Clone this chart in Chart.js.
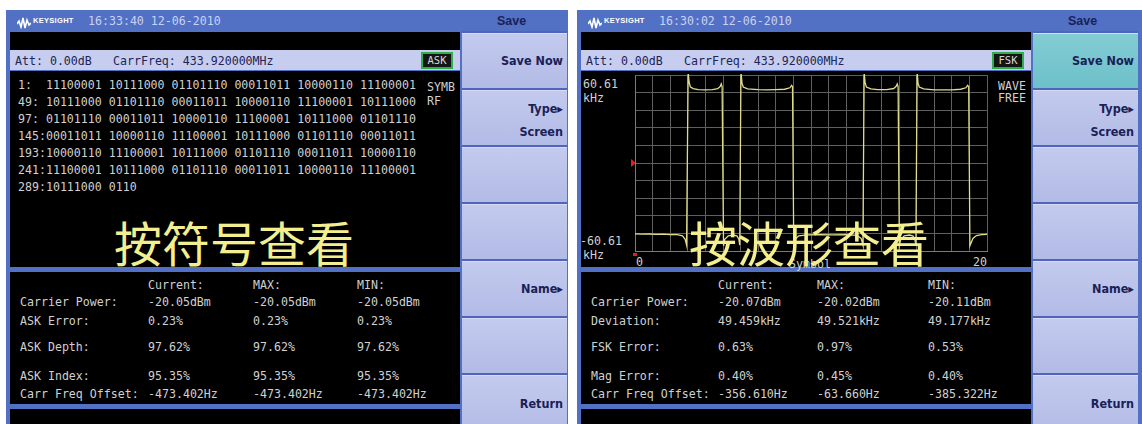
<!DOCTYPE html>
<html>
<head>
<meta charset="utf-8">
<script src="https://cdn.jsdelivr.net/npm/chart.js@4.4.1/dist/chart.umd.min.js"></script>
<style>
    html, body { margin: 0; padding: 0; background: #fff; }
    #page { position: relative; width: 1142px; height: 424px; overflow: hidden; background: #fff; }
    .a { position: absolute; }
    .frame { background: #5270c4; }
    .blk { background: #000; }
    .t { position: absolute; white-space: pre; height: 14px; line-height: 14px; }
    .mono { font-family: "DejaVu Sans Mono", monospace; font-size: 11.6px; color: #d0d0d0; }
    .bar { background: #c6cdef; }
    .key { position: absolute; background: linear-gradient(#c3caee, #b2bbe6); border-top: 1px solid #d6dcf6; box-shadow: 0 -2px 0 #5064bb; }
    .key.on { background: linear-gradient(#84ccd4, #6cc0c9); }
    .kt { position: absolute; right: 4px; font-family: "Liberation Sans Narrow", "DejaVu Sans Condensed", sans-serif; font-weight: bold; font-size: 12.5px; color: #1a2156; }
    .title { color: #c9d2f4; font-family: "DejaVu Sans Mono", monospace; font-size: 11.6px; }
    .logo { color: #fff; font-family: "Liberation Sans", sans-serif; font-weight: bold; font-size: 7.5px; letter-spacing: 0.3px; }
    .save { color: #1a2156; font-family: "Liberation Sans Narrow", sans-serif; font-weight: bold; font-size: 12.5px; }
    .mode { border: 2px solid #2fae4c; background: #151515; color: #d8d8d8; font-family: "DejaVu Sans Mono", monospace; font-size: 10.5px; text-align: center; line-height: 13px; height: 13px; }
    .cn { position: absolute; z-index: 5; font-family: "Noto Sans CJK SC", sans-serif; font-size: 48px; color: #f4ef8e; white-space: pre; line-height: 48px; }
    .red { position: absolute; background: #e02020; }
</style>
</head>
<body>
<div id="page"></div>
<script>
// ── DATOS ─────────────────────────────────────────────

const binRows = [
    '1:  11100001 10111000 01101110 00011011 10000110 11100001',
    '49: 10111000 01101110 00011011 10000110 11100001 10111000',
    '97: 01101110 00011011 10000110 11100001 10111000 01101110',
    '145:00011011 10000110 11100001 10111000 01101110 00011011',
    '193:10000110 11100001 10111000 01101110 00011011 10000110',
    '241:11100001 10111000 01101110 00011011 10000110 11100001',
    '289:10111000 0110'
];

const colHeads = ['Current:', 'MAX:', 'MIN:'];

const askLabels  = ['Carrier Power:', 'ASK Error:', 'ASK Depth:', 'ASK Index:', 'Carr Freq Offset:'];
const askCurrent = ['-20.05dBm', '0.23%', '97.62%', '95.35%', '-473.402Hz'];
const askMax     = ['-20.05dBm', '0.23%', '97.62%', '95.35%', '-473.402Hz'];
const askMin     = ['-20.05dBm', '0.23%', '97.62%', '95.35%', '-473.402Hz'];

const fskLabels  = ['Carrier Power:', 'Deviation:', 'FSK Error:', 'Mag Error:', 'Carr Freq Offset:'];
const fskCurrent = ['-20.07dBm', '49.459kHz', '0.63%', '0.40%', '-356.610Hz'];
const fskMax     = ['-20.02dBm', '49.521kHz', '0.97%', '0.45%', '-63.660Hz'];
const fskMin     = ['-20.11dBm', '49.177kHz', '0.53%', '0.40%', '-385.322Hz'];

const symX = [
    0, 0.4, 0.8, 1.2, 1.6, 2.0, 2.4, 2.7, 2.85, 2.93,
    3.02, 3.07, 3.14, 3.3, 3.6, 4.0, 4.4, 4.7, 4.85, 4.9, 4.95,
    5.03, 5.1, 5.3, 5.6, 5.8, 5.9, 5.95,
    6.02, 6.08, 6.15, 6.4, 7.0, 7.5, 8.0, 8.5, 8.8, 8.9, 8.95,
    9.02, 9.1, 9.3, 9.8, 10.5, 11.2, 12.0, 12.6, 12.85, 12.95,
    13.02, 13.07, 13.15, 13.4, 13.8, 14.3, 14.7, 14.85, 14.9, 14.95,
    15.02, 15.1, 15.3, 15.6, 15.8, 15.9, 15.96,
    16.03, 16.08, 16.15, 16.4, 17.0, 17.5, 18.0, 18.5, 18.8, 18.9, 18.96,
    19.03, 19.1, 19.2, 19.4, 19.7, 20
];
const devKHz = [
    -48.8, -49.0, -48.9, -49.2, -49.0, -49.3, -49.4, -50.2, -52.5, -56.5,
    63, 56, 52.5, 51.2, 50.6, 50.4, 50.6, 51.2, 52.8, 54.5, 52.5,
    -57, -52.5, -50.2, -49.6, -50.3, -52.5, -56.5,
    63, 55, 52.3, 51.0, 50.5, 50.3, 50.5, 50.8, 51.8, 53.5, 52.5,
    -57, -52.5, -50.2, -49.5, -49.3, -49.5, -49.4, -49.8, -52.0, -56.5,
    63, 55.5, 52.3, 51.0, 50.5, 50.6, 51.3, 53.0, 54.5, 52.5,
    -57, -52.5, -50.2, -49.6, -50.3, -52.5, -56.5,
    63, 55, 52.3, 51.0, 50.4, 50.3, 50.4, 50.8, 51.8, 53.5, 52.5,
    -57, -55, -52, -50.0, -49.3, -49.2
];

const yMin = -60.61, yMax = 60.61;

// ── MAQUETA ─────────────────────────────────────────────

const page = document.getElementById('page');

function box(x, y, w, h, cls) {
    const d = document.createElement('div');
    d.className = 'a ' + (cls || '');
    d.style.cssText = `left:${x}px;top:${y}px;width:${w}px;height:${h}px;`;
    page.appendChild(d);
    return d;
}

function txt(x, y, s, cls, parent) {
    const d = document.createElement('div');
    d.className = 't ' + (cls || '');
    d.style.left = x + 'px';
    d.style.top = (y - 7) + 'px';
    d.textContent = s;
    (parent || page).appendChild(d);
    return d;
}

function pantalla(ox, w, hora, modo, saveOn, tabla, cols) {
    box(ox + 6, 10, w, 414, 'frame');
    // barra de título
    const logo = box(ox + 17, 15, 14, 12, '');
    logo.innerHTML = '<svg width="14" height="12"><polyline points="0,7 2,4 4,10 6,1 8,11 10,3 12,8 14,6" fill="none" stroke="#fff" stroke-width="1.6"/></svg>';
    txt(ox + 33, 21, 'KEYSIGHT', 'logo');
    txt(ox + 88, 21, hora, 'title');
    txt(ox + 497, 21, 'Save', 'save');

    box(ox + 10, 32, 450, 18, 'blk');
    const bar = box(ox + 10, 50, 450, 20, 'bar');
    txt(5, 11, 'Att: 0.00dB', 'mono', bar).style.color = '#1d2456';
    txt(103, 11, 'CarrFreq: 433.920000MHz', 'mono', bar).style.color = '#1d2456';
    const m = box(ox + 421, 52, 28, 13, 'mode');
    m.textContent = modo;

    box(ox + 10, 71, 450, 196, 'blk');
    box(ox + 10, 272, 450, 132, 'blk');
    box(ox + 10, 409, 450, 15, 'blk');

    // tabla de medidas
    const ys = [302, 321, 347, 376, 394];
    colHeads.forEach((h, i) => txt(ox + cols[i], 285, h, 'mono'));
    tabla.labels.forEach((l, i) => {
        txt(ox + 20, ys[i], l, 'mono');
        txt(ox + cols[0], ys[i], tabla.cur[i], 'mono');
        txt(ox + cols[1], ys[i], tabla.max[i], 'mono');
        txt(ox + cols[2], ys[i], tabla.min[i], 'mono');
    });

    // teclas
    const tops = [32, 89, 146, 203, 260, 317, 374];
    const textos = [['Save Now'], ['Type\u25B8', 'Screen'], [], [], ['Name\u25B8'], [], ['Return']];
    tops.forEach((t, i) => {
        const k = box(ox + 462, t + 1, 105, (i === 6 ? 60 : 55), 'key');
        k.className = 'key' + (i === 0 && saveOn ? ' on' : '');
        const tx = textos[i];
        if (tx.length === 1) {
            const s = document.createElement('div');
            s.className = 'kt';
            s.style.top = (i === 6 ? 20 : 19) + 'px';
            s.textContent = tx[0];
            k.appendChild(s);
        } else if (tx.length === 2) {
            tx.forEach((v, j) => {
                const s = document.createElement('div');
                s.className = 'kt';
                s.style.top = (10 + j * 23) + 'px';
                s.textContent = v;
                k.appendChild(s);
            });
        }
    });
}

pantalla(0, 562, '16:33:40 12-06-2010', 'ASK', false,
    { labels: askLabels, cur: askCurrent, max: askMax, min: askMin }, [148, 253, 357]);
pantalla(571, 571, '16:30:02 12-06-2010', 'FSK', true,
    { labels: fskLabels, cur: fskCurrent, max: fskMax, min: fskMin }, [147, 246, 357]);

// texto de símbolos
binRows.forEach((r, i) => txt(18, 85 + i * 17, r, 'mono'));
txt(427, 87, 'SYMB', 'mono');
txt(427, 101, 'RF', 'mono');

// etiquetas de la gráfica
txt(583, 84, '60.61', 'mono');
txt(583, 98, 'kHz', 'mono');
txt(580, 241, '-60.61', 'mono');
txt(583, 255, 'kHz', 'mono');
txt(636, 262, '0', 'mono');
txt(789, 264, 'Symbol', 'mono');
txt(973, 262, '20', 'mono');
txt(998, 86, 'WAVE', 'mono');
txt(998, 98, 'FREE', 'mono');

const tri = box(631, 159, 0, 0, '');
tri.style.cssText += 'border-left:5px solid #e02020;border-top:4px solid transparent;border-bottom:4px solid transparent;';
box(633, 253, 4, 3, 'red');

const cn1 = document.createElement('div');
cn1.className = 'cn';
cn1.style.cssText = 'left:114px;top:217px;';
cn1.textContent = '按符号查看';
page.appendChild(cn1);
const cn2 = document.createElement('div');
cn2.className = 'cn';
cn2.style.cssText = 'left:689px;top:217px;';
cn2.textContent = '按波形查看';
page.appendChild(cn2);

// ── GRÁFICA ─────────────────────────────────────────────

const wrap = box(634, 74, 354, 178, '');
const cv = document.createElement('canvas');
cv.width = 354; cv.height = 178;
wrap.appendChild(cv);

new Chart(cv.getContext('2d'), {
    type: 'line',
    data: {
        datasets: [{
            data: symX.map((x, i) => ({ x, y: devKHz[i] })),
            borderColor: '#e0dc8a',
            borderWidth: 1.3,
            pointRadius: 0,
            tension: 0,
            clip: 2
        }]
    },
    options: {
        responsive: false,
        animation: false,
        devicePixelRatio: 1,
        layout: { padding: 1 },
        plugins: { legend: { display: false }, tooltip: { enabled: false } },
        scales: {
            x: {
                type: 'linear', min: 0, max: 20,
                ticks: { display: false, stepSize: 1 },
                grid: { color: '#5f5f5f', drawTicks: false },
                border: { color: '#7a7a7a' }
            },
            y: {
                min: yMin, max: yMax,
                ticks: { display: false, count: 11 },
                grid: { color: '#5f5f5f', drawTicks: false },
                border: { color: '#7a7a7a' }
            }
        }
    }
});
</script>
</body>
</html>
